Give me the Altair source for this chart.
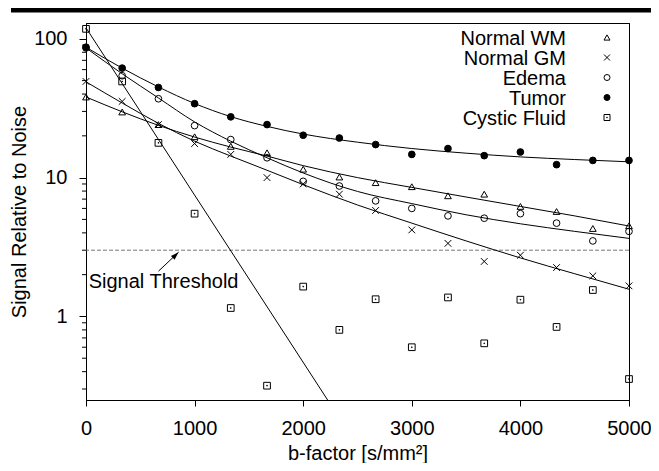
import altair as alt
import pandas as pd

# ---- data ----
series_order = ["Normal WM", "Normal GM", "Edema", "Tumor", "Cystic Fluid"]

b_pts = [0, 333, 667, 1000, 1333, 1667, 2000, 2333, 2667, 3000, 3333, 3667, 4000, 4333, 4667, 5000]
wm_pts = [38.1, 29.7, 24.1, 19.7, 16.8, 15.1, 11.5, 10.1, 9.2, 8.6, 7.4, 7.6, 6.2, 5.7, 4.3, 4.5]
gm_pts = [49.3, 35.4, 24.1, 17.6, 14.7, 10.0, 9.0, 7.6, 5.8, 4.2, 3.36, 2.49, 2.76, 2.25, 1.96, 1.66]
edema_pts = [86, 54.2, 37.0, 23.7, 18.8, 13.9, 9.4, 8.7, 6.8, 6.0, 5.3, 5.1, 5.5, 4.7, 3.5, 4.1]
tumor_pts = [87, 61.5, 44.6, 34.1, 27.4, 24.1, 20.2, 19.3, 17.3, 14.7, 16.2, 14.4, 15.3, 12.4, 13.3, 13.3]
cyst_pts = [118, 49.3, 17.8, 5.5, 1.15, 0.317, 1.64, 0.80, 1.33, 0.60, 1.37, 0.64, 1.32, 0.84, 1.55, 0.354]

b_fit = [0, 333, 667, 1000, 1333, 1667, 2000, 2500, 3000, 3500, 4000, 4500, 5000]
wm_fit = [38.1, 29.8, 23.8, 19.6, 16.6, 14.3, 12.2, 10.0, 8.5, 7.25, 6.2, 5.3, 4.48]
gm_fit = [49.0, 34.5, 24.6, 18.3, 14.3, 11.3, 8.9, 6.35, 4.7, 3.5, 2.64, 2.03, 1.57]
edema_fit = [86, 56, 37.5, 25.2, 18.3, 13.9, 10.8, 7.95, 6.5, 5.4, 4.65, 4.1, 3.65]
tumor_fit = [87, 61.5, 45, 34.2, 27.5, 23.4, 20.6, 18.0, 16.2, 15.0, 14.1, 13.5, 13.0]
cyst_fit_b = [0, 2225]
cyst_fit = [120, 0.25]

threshold = [3]
minor_ticks = [0.3, 0.4, 0.5, 0.6, 0.7, 0.8, 0.9,
               2, 3, 4, 5, 6, 7, 8, 9,
               20, 30, 40, 50, 60, 70, 80, 90]
x_ticks = [0, 1000, 2000, 3000, 4000, 5000]
y_ticks = [1, 10, 100]

label_text = ["Signal Threshold"]
label_b = [25]
label_v = [1.60]
arrow_b = [668, 852]
arrow_v = [2.12, 2.90]

# ---- tables ----
pts_rows = []
for name, vals in zip(series_order, [wm_pts, gm_pts, edema_pts, tumor_pts, cyst_pts]):
    for b, v in zip(b_pts, vals):
        pts_rows.append({"b": b, "v": v, "series": name})
pts = pd.DataFrame(pts_rows)

fit_rows = []
for name, vals in zip(series_order[:4], [wm_fit, gm_fit, edema_fit, tumor_fit]):
    for b, v in zip(b_fit, vals):
        fit_rows.append({"b": b, "v": v, "series": name})
for b, v in zip(cyst_fit_b, cyst_fit):
    fit_rows.append({"b": b, "v": v, "series": "Cystic Fluid"})
fits = pd.DataFrame(fit_rows)

legend_df = pd.DataFrame({"series": series_order})

FONT = "Liberation Sans"
W, H = 543, 377

xscale = alt.Scale(domain=[0, 5000], nice=False, zero=False)
yscale = alt.Scale(type="log", domain=[0.25, 130], nice=False)

xaxis = alt.Axis(title="b-factor [s/mm²]", values=x_ticks, format="d", grid=False,
                 tickSize=6, labelPadding=12, labelFontSize=20, titleFontSize=20,
                 titleFontWeight="normal", labelFlush=False, labelOverlap=False,
                 titleBaseline="alphabetic", titleY=59, titleX=W / 2,
                 domainColor="black", tickColor="black", labelColor="black",
                 titleColor="black", labelFont=FONT, titleFont=FONT)
yaxis = alt.Axis(title="Signal Relative to Noise", values=y_ticks, format="d", grid=False,
                 tickSize=7, labelPadding=12, labelFontSize=20, titleFontSize=20,
                 titleFontWeight="normal", labelFlush=False,
                 titleAngle=270, titleBaseline="alphabetic", titleAlign="center",
                 titleX=-61, titleY=H / 2,
                 domainColor="black", tickColor="black", labelColor="black",
                 titleColor="black", labelFont=FONT, titleFont=FONT)

X = alt.X("b:Q", scale=xscale, axis=xaxis)
Y = alt.Y("v:Q", scale=yscale, axis=yaxis)

shape_range = [
    "triangle-up",
    "M-1,-1L1,1M-1,1L1,-1",
    "circle",
    "circle",
    "M-1,-1L1,-1L1,1L-1,1Z M-0.1,-0.1L0.1,-0.1L0.1,0.1L-0.1,0.1Z",
]
fill_range = ["transparent", "transparent", "transparent", "black", "transparent"]
SHAPE = alt.Shape("series:N", scale=alt.Scale(domain=series_order, range=shape_range), legend=None)
FILL = alt.Fill("series:N", scale=alt.Scale(domain=series_order, range=fill_range), legend=None)

# decorations: crisp frame around the plot and the thick bar above the figure
frame_df = pd.DataFrame({"k": [0]})
frame = alt.Chart(frame_df).mark_rect(fill="transparent", stroke="black", strokeWidth=1).encode(
    x=alt.value(0.5), x2=alt.value(W + 0.5), y=alt.value(0.5), y2=alt.value(H + 0.5)
)
top_bar = alt.Chart(frame_df).mark_rule(color="black", strokeWidth=5).encode(
    x=alt.value(-75), x2=alt.value(565), y=alt.value(-13)
)

thresh = alt.Chart(pd.DataFrame({"v": threshold})).mark_rule(
    color="#777777", strokeDash=[4, 2], strokeWidth=1
).encode(y=Y)

lines = alt.Chart(fits).mark_line(color="black", strokeWidth=1, interpolate="monotone").encode(
    x=X, y=Y, detail="series:N"
)

points = alt.Chart(pts).mark_point(filled=True, stroke="black", strokeWidth=1, opacity=1, size=45).encode(
    x=X, y=Y, shape=SHAPE, fill=FILL
)

minor = alt.Chart(pd.DataFrame({"v": minor_ticks})).mark_rule(color="black", strokeWidth=1).encode(
    y=Y, x=alt.value(-4), x2=alt.value(0.5)
)

label = alt.Chart(pd.DataFrame({"b": label_b, "v": label_v, "t": label_text})).mark_text(
    align="left", baseline="alphabetic", fontSize=20, font=FONT, color="black"
).encode(x=X, y=Y, text="t:N")

arrow = alt.Chart(pd.DataFrame({"b": arrow_b, "v": arrow_v})).mark_line(
    color="black", strokeWidth=1
).encode(x=X, y=Y)

arrow_head = alt.Chart(pd.DataFrame({"b": arrow_b[1:], "v": arrow_v[1:]})).mark_point(
    shape="M0,0L0.65,2L-0.65,2Z", filled=True, color="black", opacity=1, size=64, angle=46
).encode(x=X, y=Y)

main = alt.layer(frame, thresh, lines, minor, label, arrow, arrow_head, points, top_bar)

# legend drawn as its own layer, labels to the left of the symbols
LY = alt.Y("series:N", scale=alt.Scale(domain=series_order, range=[14.5, 94.5], padding=0), axis=None)
leg_sym = alt.Chart(legend_df).mark_point(filled=True, stroke="black", strokeWidth=1, opacity=1, size=36).encode(
    y=LY, x=alt.value(521), shape=SHAPE, fill=FILL
)
leg_txt = alt.Chart(legend_df).mark_text(
    align="right", baseline="middle", fontSize=20, font=FONT, color="black", dy=1
).encode(y=LY, x=alt.value(480), text="series:N")
legend = alt.layer(leg_sym, leg_txt)

chart = alt.layer(main, legend).resolve_scale(y="independent").properties(
    width=W, height=H,
    padding={"left": 78, "top": 15, "right": 22, "bottom": 63},
    autosize=alt.AutoSizeParams(type="none"),
).configure(
    font=FONT,
    background="white",
).configure_view(
    stroke="black", strokeWidth=1
)

chart.save("out.html", embed_options={"renderer": "svg", "actions": False})
